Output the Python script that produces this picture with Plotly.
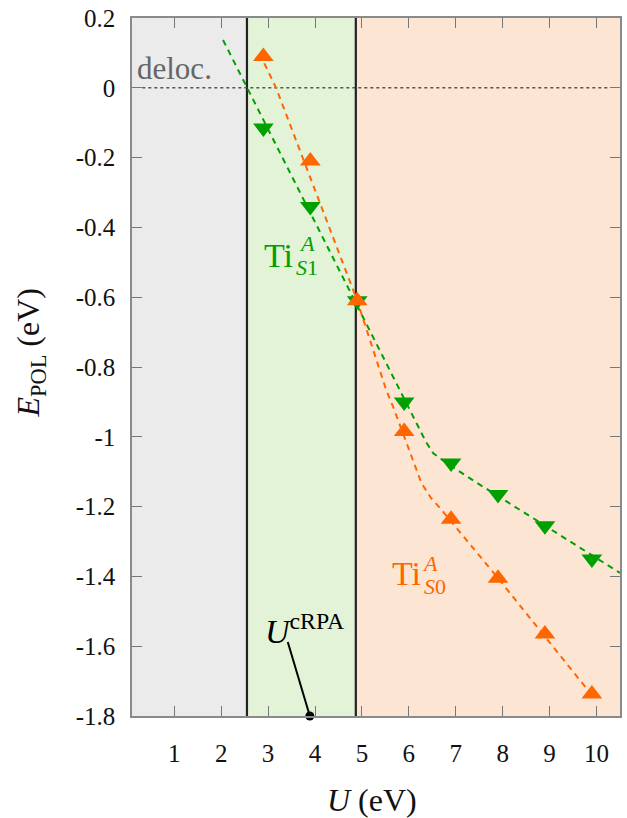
import plotly.graph_objects as go

# ---- data ----
U_vals = [2.9, 3.9, 4.9, 5.9, 6.9, 7.9, 8.9, 9.9]
E_S0 = [0.09, -0.21, -0.61, -0.985, -1.236, -1.405, -1.565, -1.737]
E_S1 = [-0.115, -0.34, -0.61, -0.90, -1.075, -1.165, -1.255, -1.35]

fit_S0_x = [2.92, 3.17, 4.19, 4.9, 5.52, 5.67, 6.27, 6.47, 6.67, 7.9, 9.9]
fit_S0_y = [0.07, 0.0, -0.36, -0.61, -0.867, -0.916, -1.133, -1.175, -1.205, -1.405, -1.74]
fit_S1_x = [2.04, 5.9, 6.17, 6.37, 6.52, 6.75, 7.37, 10.5]
fit_S1_y = [0.137, -0.89, -0.962, -1.016, -1.047, -1.07, -1.125, -1.39]

U_DELOC = 2.55      # boundary of delocalised region
U_MID = 4.87        # boundary between regions
U_CRPA = 3.89

x_ticks = [1, 2, 3, 4, 5, 6, 7, 8, 9, 10]
y_ticks = [0.2, 0, -0.2, -0.4, -0.6, -0.8, -1.0, -1.2, -1.4, -1.6, -1.8]
y_ticktext = ["0.2", "0", "-0.2", "-0.4", "-0.6", "-0.8", "-1", "-1.2", "-1.4", "-1.6", "-1.8"]

X_RANGE = [0.1, 10.5]
Y_RANGE = [-1.8, 0.2]

ORANGE = "rgb(255,102,0)"
GREEN = "rgb(0,160,0)"
FONT = "'Liberation Serif', 'Times New Roman', Times, 'DejaVu Serif', serif"

fig = go.Figure()

# background regions
fig.add_shape(type="rect", xref="x", yref="paper", x0=X_RANGE[0], x1=U_DELOC, y0=0, y1=1,
              fillcolor="rgb(235,235,235)", line_width=0, layer="below")
fig.add_shape(type="rect", xref="x", yref="paper", x0=U_DELOC, x1=U_MID, y0=0, y1=1,
              fillcolor="rgb(226,243,216)", line_width=0, layer="below")
fig.add_shape(type="rect", xref="x", yref="paper", x0=U_MID, x1=X_RANGE[1], y0=0, y1=1,
              fillcolor="rgb(253,229,212)", line_width=0, layer="below")
for xv in (U_DELOC, U_MID):
    fig.add_shape(type="line", xref="x", yref="paper", x0=xv, x1=xv, y0=0, y1=1,
                  line=dict(color="#222", width=2.2), layer="below")
# zero dotted line
fig.add_shape(type="line", xref="x", yref="y", x0=0.32, x1=10.25, y0=0, y1=0,
              line=dict(color="#555", width=1.5, dash="dot"), layer="below")

# fits
fig.add_trace(go.Scatter(x=fit_S1_x, y=fit_S1_y, mode="lines",
                         line=dict(color=GREEN, width=2, dash="6px,5px"), showlegend=False))
fig.add_trace(go.Scatter(x=fit_S0_x, y=fit_S0_y, mode="lines",
                         line=dict(color=ORANGE, width=2, dash="6px,5px"), showlegend=False))
# markers
fig.add_trace(go.Scatter(x=U_vals, y=E_S1, mode="markers",
                         marker=dict(symbol="triangle-down", size=18, color=GREEN, line_width=0),
                         showlegend=False))
fig.add_trace(go.Scatter(x=U_vals, y=E_S0, mode="markers",
                         marker=dict(symbol="triangle-up", size=18, color=ORANGE, line_width=0),
                         showlegend=False))

# U cRPA marker and pointer
fig.add_shape(type="line", xref="x", yref="y", x0=3.42, y0=-1.588, x1=U_CRPA, y1=-1.8,
              line=dict(color="black", width=2))
fig.add_trace(go.Scatter(x=[U_CRPA], y=[-1.8], mode="markers", cliponaxis=False,
                         marker=dict(symbol="circle", size=9, color="black"), showlegend=False))

def txt(x, y, s, size, color, **kw):
    fig.add_annotation(x=x, y=y, xref="x", yref="y", text=s, showarrow=False,
                       font=dict(family=FONT, size=size, color=color), **kw)

txt(1.0, 0.055, "deloc.", 31, "#666")
txt(3.23, -0.48, "Ti", 34, GREEN)
txt(3.83, -0.445, "<i>A</i>", 22, GREEN)
txt(3.84, -0.515, "<i>S</i>1", 22, GREEN)
txt(5.95, -1.393, "Ti", 34, ORANGE)
txt(6.45, -1.362, "<i>A</i>", 22, ORANGE)
txt(6.56, -1.428, "<i>S</i>0", 22, ORANGE)
txt(3.78, -1.55, "<i>U</i><sup>cRPA</sup>", 34, "black", xanchor="center")

# axis titles
fig.add_annotation(x=-0.208, y=0.52, xref="paper", yref="paper", showarrow=False,
                   xanchor="center", yanchor="middle",
                   text="<i>E</i><sub>POL</sub> (eV)", textangle=-90,
                   font=dict(family=FONT, size=32, color="#111"))
fig.add_annotation(x=0.492, y=-0.12, xref="paper", yref="paper", showarrow=False,
                   xanchor="center", yanchor="middle",
                   text="<i>U</i> (eV)", font=dict(family=FONT, size=32, color="#111"))

axis_common = dict(showline=True, linecolor="#8a8a8a", linewidth=1.5, mirror="ticks",
                   ticks="inside", ticklen=10, tickwidth=1.3, tickcolor="#777",
                   showgrid=False, zeroline=False,
                   tickfont=dict(family=FONT, size=25, color="#111"))
fig.update_xaxes(range=X_RANGE, tickvals=x_ticks, ticklabelstandoff=14, **axis_common)
fig.update_yaxes(range=Y_RANGE, tickvals=y_ticks, ticktext=y_ticktext,
                 ticklabelstandoff=10, **axis_common)

fig.update_layout(width=627, height=818, margin=dict(l=132, r=5, t=17, b=102),
                  paper_bgcolor="white", plot_bgcolor="white",
                  font=dict(family=FONT))

fig.write_html("out.html")
